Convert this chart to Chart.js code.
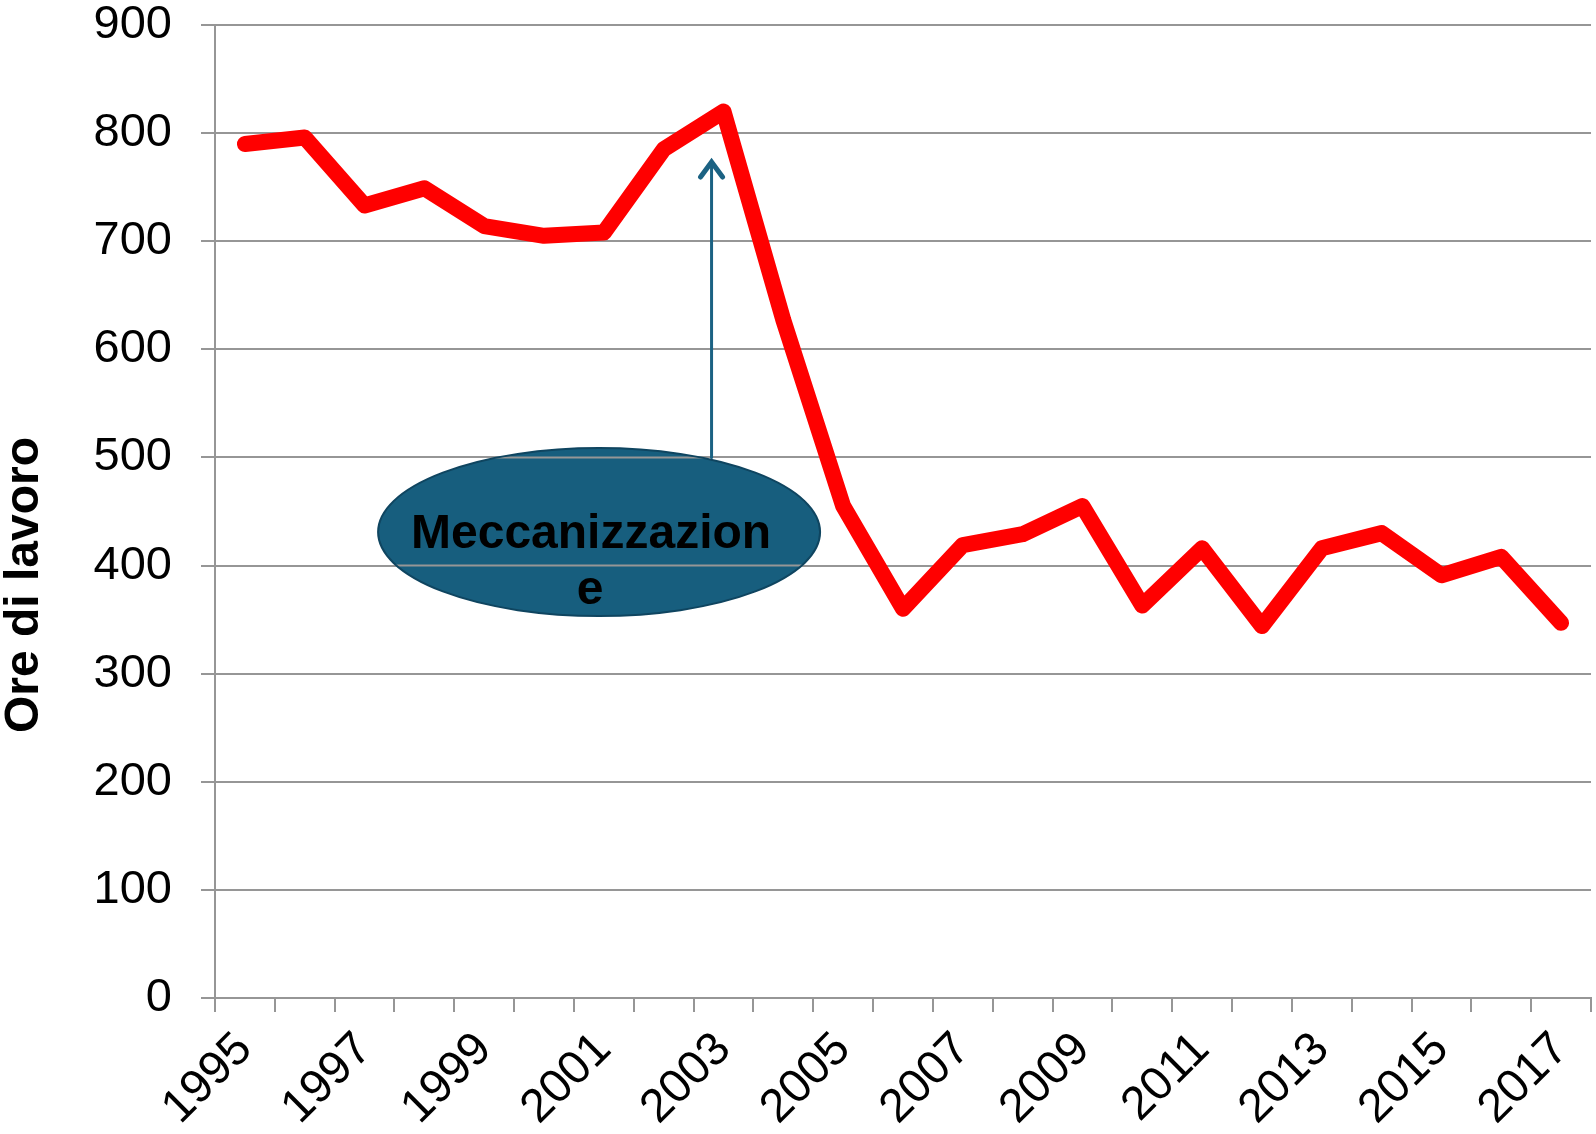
<!DOCTYPE html>
<html>
<head>
<meta charset="utf-8">
<script src="https://cdn.jsdelivr.net/npm/chart.js@4.4.1/dist/chart.umd.min.js"></script>
<style>
  html, body { margin: 0; padding: 0; background: #fff; }
  #wrap { width: 1596px; height: 1134px; }
</style>
</head>
<body>
<div id="wrap"><canvas id="lineChart"></canvas></div>
<script>
// anni e ore di lavoro
const anni = ['1995','1996','1997','1998','1999','2000','2001','2002','2003','2004','2005','2006',
              '2007','2008','2009','2010','2011','2012','2013','2014','2015','2016','2017'];
const oreLavoro = [790, 796, 733, 749, 714, 705, 708, 785, 820, 627, 455, 360,
                   419, 429, 455, 363, 416, 344, 416, 430, 391, 408, 347];
const yTicks = [0, 100, 200, 300, 400, 500, 600, 700, 800, 900];
const titoloY = 'Ore di lavoro';
const nota = ['Meccanizzazion', 'e'];

const grigio = '#969696';
const fontBase = 'Liberation Sans, Arial, sans-serif';

// ellisse + freccia "Meccanizzazione", e titolo asse y
const notaPlugin = {
  id: 'nota',
  beforeDatasetsDraw(chart) {
    const ctx = chart.ctx;
    const x = chart.scales.x, y = chart.scales.y;
    const cx = x.getPixelForValue(5.92);
    const cy = y.getPixelForValue(431);
    const rx = 221, ry = 84;
    ctx.save();

    // titolo asse y
    ctx.save();
    ctx.translate(25, 585);
    ctx.rotate(-Math.PI / 2);
    ctx.fillStyle = '#000';
    ctx.font = 'bold 48px ' + fontBase;
    ctx.textAlign = 'center';
    ctx.textBaseline = 'middle';
    ctx.fillText(titoloY, 0, 0);
    ctx.restore();

    // freccia
    const ax = x.getPixelForValue(7.8);
    const aTop = y.getPixelForValue(776);
    const aBot = y.getPixelForValue(500);
    ctx.strokeStyle = '#1b6283';
    ctx.lineWidth = 3;
    ctx.lineCap = 'round';
    ctx.lineJoin = 'miter';
    ctx.beginPath();
    ctx.moveTo(ax, aBot);
    ctx.lineTo(ax, aTop + 3);
    ctx.stroke();
    ctx.beginPath();
    ctx.moveTo(ax - 11, aTop + 18);
    ctx.lineTo(ax, aTop + 3);
    ctx.lineTo(ax + 11, aTop + 18);
    ctx.lineWidth = 5;
    ctx.stroke();

    // ellisse
    ctx.beginPath();
    ctx.ellipse(cx, cy, rx, ry, 0, 0, Math.PI * 2);
    ctx.fillStyle = '#175e7e';
    ctx.fill();
    ctx.lineWidth = 2;
    ctx.strokeStyle = '#0f4560';
    ctx.stroke();

    // griglia visibile attraverso l'ellisse
    ctx.save();
    ctx.beginPath();
    ctx.ellipse(cx, cy, rx - 1, ry - 1, 0, 0, Math.PI * 2);
    ctx.clip();
    ctx.strokeStyle = grigio;
    ctx.lineWidth = 2;
    for (const t of yTicks) {
      const py = y.getPixelForValue(t);
      ctx.beginPath();
      ctx.moveTo(cx - rx, py);
      ctx.lineTo(cx + rx, py);
      ctx.stroke();
    }
    ctx.restore();

    ctx.fillStyle = '#000';
    ctx.font = 'bold 48px ' + fontBase;
    ctx.textAlign = 'center';
    ctx.textBaseline = 'alphabetic';
    ctx.fillText(nota[0], cx - 8, cy + 16);
    ctx.fillText(nota[1], cx - 9, cy + 72);
    ctx.restore();
  }
};

const ctx = document.getElementById('lineChart');

new Chart(ctx, {
  type: 'line',
  data: {
    labels: anni,
    datasets: [{
      label: titoloY,
      data: oreLavoro,
      borderColor: '#ff0000',
      borderWidth: 16,
      borderCapStyle: 'round',
      borderJoinStyle: 'round',
      pointRadius: 0,
      tension: 0,
      fill: false
    }]
  },
  options: {
    responsive: true,
    maintainAspectRatio: false,
    animation: false,
    layout: { padding: { top: 25, right: 5, left: 0, bottom: 0 } },
    plugins: {
      legend: { display: false },
      tooltip: { enabled: false }
    },
    scales: {
      x: {
        offset: true,
        grid: {
          offset: true,
          drawOnChartArea: false,
          drawTicks: true,
          tickLength: 14,
          color: grigio,
          lineWidth: 2
        },
        border: { color: grigio, width: 2 },
        ticks: {
          autoSkip: false,
          minRotation: 45,
          maxRotation: 45,
          padding: 10,
          color: '#000',
          font: { family: fontBase, size: 47 },
          callback: (v, i) => (i % 2 === 0 ? anni[i] : '')
        },
        afterFit: (scale) => {
          scale.height = 136;
          scale.paddingLeft = 0;
          scale.paddingRight = 0;
        }
      },
      y: {
        min: 0,
        max: 900,
        afterBuildTicks: (scale) => { scale.ticks = yTicks.map(v => ({ value: v })); },
        grid: {
          color: grigio,
          lineWidth: 2,
          drawTicks: true,
          tickLength: 14
        },
        border: { color: grigio, width: 2 },
        ticks: {
          padding: 29,
          color: '#000',
          font: { family: fontBase, size: 47, lineHeight: 1 }
        },
        title: { display: false },
        afterFit: (scale) => {
          scale.width = 215;
          scale.paddingTop = 0;
          scale.paddingBottom = 0;
        }
      }
    }
  },
  plugins: [notaPlugin]
});
</script>
</body>
</html>
